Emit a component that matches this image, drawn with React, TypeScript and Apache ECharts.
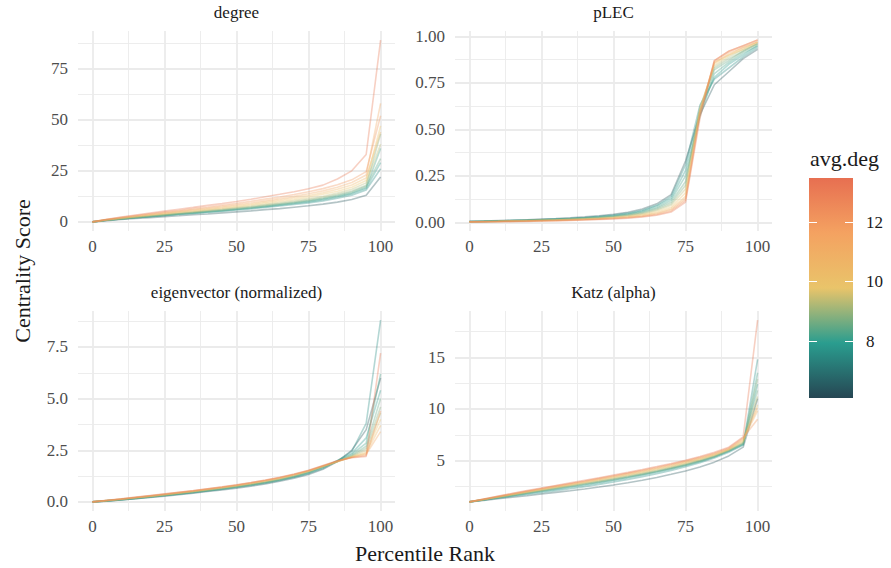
import React, { useEffect, useRef } from "react";
import * as echarts from "echarts";

const FONT = '"Liberation Serif", "DejaVu Serif", serif';

// percentile ranks (x)
const percentiles = [0, 5, 10, 15, 20, 25, 30, 35, 40, 45, 50, 55, 60, 65, 70, 75, 80, 85, 90, 95, 100];

// average degree of each network (colour)
const avgDeg = [6.4, 7.6, 8.0, 8.2, 8.5, 8.8, 9.3, 9.9, 10.5, 11.2, 12.0, 13.2];

const degreeValues = [
  [0, 0.6, 1.2, 1.7, 2.1, 2.6, 3.0, 3.5, 3.9, 4.4, 4.9, 5.4, 6.0, 6.5, 7.2, 7.9, 8.7, 9.7, 11.0, 13.1, 22],
  [0, 0.8, 1.4, 2.0, 2.5, 3.0, 3.6, 4.1, 4.6, 5.2, 5.8, 6.4, 7.1, 7.8, 8.5, 9.3, 10.3, 11.6, 13.1, 15.6, 26],
  [0, 0.8, 1.4, 2.1, 2.6, 3.2, 3.8, 4.3, 4.9, 5.4, 6.1, 6.7, 7.4, 8.2, 9.0, 9.8, 10.9, 12.2, 13.8, 16.4, 29],
  [0, 0.8, 1.5, 2.1, 2.7, 3.3, 3.9, 4.4, 5.0, 5.6, 6.2, 6.9, 7.6, 8.4, 9.2, 10.1, 11.2, 12.5, 14.1, 16.8, 36],
  [0, 0.9, 1.5, 2.2, 2.8, 3.4, 4.0, 4.6, 5.2, 5.8, 6.5, 7.1, 7.9, 8.7, 9.5, 10.5, 11.6, 12.9, 14.6, 17.4, 31],
  [0, 0.9, 1.6, 2.3, 2.9, 3.5, 4.1, 4.8, 5.4, 6.0, 6.7, 7.4, 8.2, 9.0, 9.9, 10.8, 12.0, 13.4, 15.1, 18.0, 43],
  [0, 0.9, 1.7, 2.4, 3.1, 3.7, 4.4, 5.0, 5.7, 6.3, 7.1, 7.8, 8.6, 9.5, 10.4, 11.4, 12.6, 14.1, 16.0, 19.1, 38],
  [0, 1.0, 1.8, 2.6, 3.3, 4.0, 4.7, 5.3, 6.0, 6.7, 7.5, 8.3, 9.2, 10.1, 11.1, 12.2, 13.5, 15.0, 17.0, 20.3, 47],
  [0, 1.1, 1.9, 2.7, 3.5, 4.2, 4.9, 5.7, 6.4, 7.1, 8.0, 8.8, 9.8, 10.7, 11.8, 12.9, 14.3, 16.0, 18.1, 21.5, 44],
  [0, 1.1, 2.0, 2.9, 3.7, 4.5, 5.3, 6.0, 6.8, 7.6, 8.5, 9.4, 10.4, 11.4, 12.5, 13.8, 15.2, 17.0, 19.3, 23.0, 58],
  [0, 1.2, 2.2, 3.1, 4.0, 4.8, 5.6, 6.5, 7.3, 8.2, 9.1, 10.1, 11.2, 12.2, 13.4, 14.8, 16.3, 18.2, 20.6, 24.6, 52],
  [0, 1.3, 2.4, 3.4, 4.4, 5.3, 6.2, 7.1, 8.1, 9.0, 10.0, 11.1, 12.3, 13.5, 14.8, 16.2, 18.0, 21.0, 25.0, 33.0, 89],
];

const plecValues = [
  [0.006, 0.008, 0.010, 0.012, 0.015, 0.018, 0.021, 0.025, 0.030, 0.036, 0.044, 0.055, 0.072, 0.10, 0.15, 0.33, 0.58, 0.74, 0.81, 0.88, 0.93],
  [0.005, 0.007, 0.009, 0.011, 0.013, 0.016, 0.019, 0.023, 0.027, 0.033, 0.040, 0.050, 0.066, 0.092, 0.14, 0.31, 0.63, 0.77, 0.83, 0.89, 0.94],
  [0.005, 0.006, 0.008, 0.010, 0.012, 0.015, 0.018, 0.021, 0.025, 0.030, 0.037, 0.047, 0.062, 0.088, 0.13, 0.28, 0.60, 0.78, 0.85, 0.90, 0.95],
  [0.005, 0.006, 0.008, 0.010, 0.012, 0.014, 0.017, 0.020, 0.024, 0.029, 0.035, 0.044, 0.058, 0.080, 0.12, 0.25, 0.57, 0.80, 0.86, 0.91, 0.95],
  [0.004, 0.006, 0.007, 0.009, 0.011, 0.013, 0.016, 0.019, 0.023, 0.027, 0.033, 0.041, 0.054, 0.075, 0.11, 0.22, 0.59, 0.82, 0.87, 0.92, 0.96],
  [0.004, 0.005, 0.007, 0.009, 0.011, 0.013, 0.015, 0.018, 0.022, 0.026, 0.031, 0.039, 0.050, 0.070, 0.10, 0.20, 0.62, 0.83, 0.88, 0.92, 0.96],
  [0.004, 0.005, 0.006, 0.008, 0.010, 0.012, 0.014, 0.017, 0.020, 0.024, 0.029, 0.036, 0.046, 0.064, 0.092, 0.18, 0.60, 0.84, 0.89, 0.93, 0.96],
  [0.004, 0.005, 0.006, 0.008, 0.009, 0.011, 0.013, 0.016, 0.019, 0.022, 0.027, 0.033, 0.042, 0.057, 0.082, 0.16, 0.61, 0.85, 0.90, 0.93, 0.97],
  [0.003, 0.004, 0.005, 0.007, 0.008, 0.010, 0.012, 0.014, 0.017, 0.020, 0.025, 0.030, 0.038, 0.051, 0.074, 0.14, 0.60, 0.86, 0.90, 0.94, 0.97],
  [0.003, 0.004, 0.005, 0.006, 0.008, 0.009, 0.011, 0.013, 0.016, 0.019, 0.023, 0.028, 0.035, 0.047, 0.068, 0.13, 0.59, 0.86, 0.91, 0.94, 0.97],
  [0.003, 0.004, 0.005, 0.006, 0.007, 0.009, 0.010, 0.012, 0.015, 0.018, 0.021, 0.026, 0.032, 0.043, 0.062, 0.12, 0.58, 0.87, 0.92, 0.95, 0.98],
  [0.003, 0.003, 0.004, 0.005, 0.006, 0.008, 0.009, 0.011, 0.013, 0.016, 0.019, 0.023, 0.029, 0.039, 0.056, 0.11, 0.56, 0.87, 0.92, 0.95, 0.98],
];

const eigenValues = [
  [0, 0.04, 0.09, 0.15, 0.21, 0.28, 0.35, 0.42, 0.50, 0.58, 0.66, 0.76, 0.87, 1.00, 1.15, 1.33, 1.58, 1.95, 2.50, 3.50, 6.0],
  [0, 0.05, 0.10, 0.16, 0.23, 0.30, 0.37, 0.45, 0.53, 0.61, 0.70, 0.80, 0.91, 1.04, 1.19, 1.37, 1.62, 1.98, 2.45, 3.80, 8.8],
  [0, 0.05, 0.11, 0.17, 0.24, 0.31, 0.38, 0.46, 0.54, 0.62, 0.72, 0.82, 0.93, 1.06, 1.21, 1.40, 1.66, 2.00, 2.35, 3.10, 5.4],
  [0, 0.05, 0.11, 0.18, 0.25, 0.32, 0.39, 0.47, 0.55, 0.64, 0.73, 0.83, 0.94, 1.07, 1.23, 1.42, 1.68, 1.98, 2.30, 2.85, 6.2],
  [0, 0.06, 0.12, 0.18, 0.25, 0.33, 0.40, 0.48, 0.56, 0.65, 0.74, 0.84, 0.95, 1.08, 1.24, 1.44, 1.70, 1.96, 2.25, 2.70, 5.0],
  [0, 0.06, 0.12, 0.19, 0.26, 0.33, 0.41, 0.49, 0.57, 0.66, 0.75, 0.85, 0.97, 1.10, 1.26, 1.46, 1.70, 1.95, 2.22, 2.60, 4.6],
  [0, 0.06, 0.13, 0.20, 0.27, 0.34, 0.42, 0.50, 0.58, 0.67, 0.77, 0.87, 0.99, 1.12, 1.28, 1.48, 1.71, 1.94, 2.20, 2.50, 4.3],
  [0, 0.07, 0.13, 0.20, 0.28, 0.35, 0.43, 0.51, 0.60, 0.69, 0.78, 0.89, 1.01, 1.14, 1.30, 1.49, 1.72, 1.95, 2.18, 2.40, 4.0],
  [0, 0.07, 0.14, 0.21, 0.28, 0.36, 0.44, 0.52, 0.61, 0.70, 0.80, 0.90, 1.02, 1.15, 1.31, 1.50, 1.73, 1.96, 2.17, 2.35, 3.7],
  [0, 0.07, 0.14, 0.21, 0.29, 0.37, 0.45, 0.53, 0.62, 0.71, 0.81, 0.92, 1.04, 1.17, 1.33, 1.51, 1.74, 1.97, 2.16, 2.30, 3.4],
  [0, 0.07, 0.14, 0.22, 0.30, 0.38, 0.46, 0.54, 0.63, 0.72, 0.82, 0.93, 1.05, 1.18, 1.34, 1.52, 1.75, 1.98, 2.15, 2.25, 4.4],
  [0, 0.08, 0.15, 0.23, 0.31, 0.39, 0.47, 0.55, 0.64, 0.73, 0.83, 0.94, 1.06, 1.19, 1.35, 1.53, 1.76, 1.99, 2.14, 2.20, 7.2],
];

const katzValues = [
  [1.0, 1.15, 1.30, 1.45, 1.60, 1.76, 1.92, 2.08, 2.25, 2.44, 2.64, 2.86, 3.10, 3.37, 3.67, 4.00, 4.38, 4.85, 5.45, 6.30, 11.0],
  [1.0, 1.18, 1.36, 1.54, 1.72, 1.90, 2.09, 2.28, 2.48, 2.70, 2.93, 3.18, 3.45, 3.74, 4.05, 4.40, 4.80, 5.25, 5.80, 6.50, 14.8],
  [1.0, 1.20, 1.40, 1.60, 1.80, 2.00, 2.20, 2.40, 2.61, 2.84, 3.08, 3.33, 3.60, 3.89, 4.20, 4.53, 4.90, 5.35, 5.90, 6.55, 12.4],
  [1.0, 1.21, 1.42, 1.63, 1.84, 2.05, 2.26, 2.47, 2.68, 2.90, 3.13, 3.38, 3.64, 3.92, 4.23, 4.56, 4.93, 5.38, 5.92, 6.60, 13.5],
  [1.0, 1.22, 1.44, 1.66, 1.87, 2.08, 2.30, 2.52, 2.74, 2.96, 3.19, 3.43, 3.69, 3.97, 4.27, 4.60, 4.97, 5.40, 5.95, 6.65, 11.8],
  [1.0, 1.22, 1.45, 1.68, 1.90, 2.12, 2.34, 2.56, 2.78, 3.00, 3.23, 3.48, 3.74, 4.02, 4.32, 4.65, 5.02, 5.45, 6.00, 6.70, 12.9],
  [1.0, 1.23, 1.46, 1.69, 1.92, 2.15, 2.38, 2.60, 2.83, 3.06, 3.30, 3.55, 3.81, 4.09, 4.39, 4.71, 5.08, 5.50, 6.03, 6.80, 11.2],
  [1.0, 1.24, 1.48, 1.72, 1.96, 2.19, 2.42, 2.65, 2.88, 3.12, 3.37, 3.62, 3.88, 4.16, 4.46, 4.78, 5.14, 5.55, 6.07, 6.90, 10.4],
  [1.0, 1.25, 1.50, 1.74, 1.98, 2.22, 2.46, 2.70, 2.94, 3.18, 3.43, 3.69, 3.95, 4.23, 4.53, 4.85, 5.20, 5.60, 6.10, 7.00, 9.8],
  [1.0, 1.26, 1.52, 1.77, 2.02, 2.26, 2.50, 2.74, 2.98, 3.23, 3.48, 3.74, 4.01, 4.29, 4.59, 4.91, 5.26, 5.65, 6.15, 7.10, 10.1],
  [1.0, 1.27, 1.54, 1.80, 2.05, 2.30, 2.55, 2.79, 3.03, 3.28, 3.53, 3.79, 4.06, 4.35, 4.65, 4.97, 5.32, 5.72, 6.22, 7.20, 9.0],
  [1.0, 1.28, 1.56, 1.83, 2.09, 2.34, 2.59, 2.84, 3.09, 3.34, 3.60, 3.86, 4.13, 4.42, 4.72, 5.04, 5.40, 5.80, 6.30, 7.30, 18.6],
];

const facetTitles = ["degree", "pLEC", "eigenvector (normalized)", "Katz (alpha)"];
const xMajorTicks = [0, 25, 50, 75, 100];
const xMinorTicks = [12.5, 37.5, 62.5, 87.5];
const degreeMajor = [0, 25, 50, 75];
const degreeMinor = [12.5, 37.5, 62.5, 87.5];
const plecMajor = [0, 0.25, 0.5, 0.75, 1];
const plecMinor = [0.125, 0.375, 0.625, 0.875];
const eigenMajor = [0, 2.5, 5, 7.5];
const eigenMinor = [1.25, 3.75, 6.25, 8.75];
const katzMajor = [5, 10, 15];
const katzMinor = [2.5, 7.5, 12.5, 17.5];

const legendTicks = [8, 10, 12];
const LEG_MIN = 6.09;
const LEG_MAX = 13.48;
const palette = ["#264653", "#2A9D8F", "#E9C46A", "#F4A261", "#E76F51"];

function hexToRgb(h: string) {
  const n = parseInt(h.slice(1), 16);
  return [(n >> 16) & 255, (n >> 8) & 255, n & 255];
}
function colorFor(v: number) {
  let t = (v - LEG_MIN) / (LEG_MAX - LEG_MIN);
  t = Math.max(0, Math.min(1, t));
  const seg = t * (palette.length - 1);
  const i = Math.min(palette.length - 2, Math.floor(seg));
  const f = seg - i;
  const a = hexToRgb(palette[i]);
  const b = hexToRgb(palette[i + 1]);
  const c = a.map((x, k) => Math.round(x + (b[k] - x) * f));
  return `rgb(${c[0]},${c[1]},${c[2]})`;
}

const panels = [
  { values: degreeValues, major: degreeMajor, minor: degreeMinor, digits: 0 },
  { values: plecValues, major: plecMajor, minor: plecMinor, digits: 2 },
  { values: eigenValues, major: eigenMajor, minor: eigenMinor, digits: 1 },
  { values: katzValues, major: katzMajor, minor: katzMinor, digits: 0 },
];

const GRID_LEFT = [78, 455];
const GRID_TOP = [31, 311];
const GRID_W = 317;
const GRID_H = 200;

export default function App() {
  const ref = useRef<HTMLDivElement>(null);
  useEffect(() => {
    if (!ref.current) return;
    const chart = echarts.init(ref.current, undefined, { renderer: "svg" });
    const grids: any[] = [];
    const xAxes: any[] = [];
    const yAxes: any[] = [];
    const series: any[] = [];
    const graphics: any[] = [];
    const labelStyle = { color: "#4D4D4D", fontSize: 17, fontFamily: FONT };
    const gridColor = "#EBEBEB";

    panels.forEach((p, i) => {
      const r = Math.floor(i / 2);
      const c = i % 2;
      grids.push({ left: GRID_LEFT[c], top: GRID_TOP[r], width: GRID_W, height: GRID_H });
      let lo = Infinity;
      let hi = -Infinity;
      p.values.forEach((row) => row.forEach((v) => { lo = Math.min(lo, v); hi = Math.max(hi, v); }));
      const pad = (hi - lo) * 0.05;
      const ymin = lo - pad;
      const ymax = hi + pad;
      xAxes.push({
        type: "value", gridIndex: i, min: -5, max: 105, position: "bottom",
        axisLine: { show: false },
        axisTick: { show: false, customValues: xMajorTicks },
        axisLabel: { ...labelStyle, customValues: xMajorTicks, margin: 7 },
        splitLine: { show: true, lineStyle: { color: gridColor, width: 1.8 } },
      });
      xAxes.push({
        type: "value", gridIndex: i, min: -5, max: 105, position: "bottom",
        axisLine: { show: false },
        axisTick: { show: false, customValues: xMinorTicks },
        axisLabel: { show: false },
        splitLine: { show: true, lineStyle: { color: gridColor, width: 0.9 } },
      });
      yAxes.push({
        type: "value", gridIndex: i, min: ymin, max: ymax, position: "left",
        axisLine: { show: false },
        axisTick: { show: false, customValues: p.major },
        axisLabel: {
          ...labelStyle, customValues: p.major, margin: 10,
          formatter: (v: number) => v.toFixed(p.digits),
        },
        splitLine: { show: true, lineStyle: { color: gridColor, width: 1.8 } },
      });
      yAxes.push({
        type: "value", gridIndex: i, min: ymin, max: ymax, position: "left",
        axisLine: { show: false },
        axisTick: { show: false, customValues: p.minor },
        axisLabel: { show: false },
        splitLine: { show: true, lineStyle: { color: gridColor, width: 0.9 } },
      });
      p.values.forEach((row, k) => {
        series.push({
          type: "line",
          xAxisIndex: i * 2,
          yAxisIndex: i * 2,
          data: percentiles.map((x, j) => [x, row[j]]),
          showSymbol: false,
          symbol: "none",
          silent: true,
          clip: false,
          lineStyle: { color: colorFor(avgDeg[k]), width: 1.6, opacity: 0.35 },
        });
      });
      graphics.push({
        type: "text",
        x: GRID_LEFT[c] + GRID_W / 2,
        y: r === 0 ? 12 : 292,
        style: {
          text: facetTitles[i], fill: "#1A1A1A", fontSize: 17, fontFamily: FONT,
          textAlign: "center", textVerticalAlign: "middle",
        },
      });
    });

    // colour bar legend
    grids.push({ left: 809, top: 178, width: 44, height: 220 });
    xAxes.push({
      type: "category", gridIndex: 4, data: [""],
      axisLine: { show: false }, axisTick: { show: false }, axisLabel: { show: false },
      splitLine: { show: false },
    });
    yAxes.push({
      type: "value", gridIndex: 4, min: LEG_MIN, max: LEG_MAX, position: "right",
      axisLine: { show: false },
      axisTick: { show: true, inside: true, length: 8, customValues: legendTicks, lineStyle: { color: "#FFFFFF", width: 1 } },
      axisLabel: { customValues: legendTicks, color: "#1A1A1A", fontSize: 17, fontFamily: FONT, margin: 13 },
      splitLine: { show: false },
      z: 5,
    });
    yAxes.push({
      type: "value", gridIndex: 4, min: LEG_MIN, max: LEG_MAX, position: "left",
      axisLine: { show: false },
      axisTick: { show: true, inside: true, length: 8, customValues: legendTicks, lineStyle: { color: "#FFFFFF", width: 1 } },
      axisLabel: { show: false },
      splitLine: { show: false },
      z: 5,
    });
    series.push({
      type: "bar", xAxisIndex: 8, yAxisIndex: 8, stack: "leg", barWidth: "100%",
      data: [LEG_MIN], itemStyle: { color: "rgba(0,0,0,0)" }, silent: true,
    });
    series.push({
      type: "bar", xAxisIndex: 8, yAxisIndex: 8, stack: "leg", barWidth: "100%",
      data: [LEG_MAX - LEG_MIN], silent: true,
      itemStyle: {
        color: new echarts.graphic.LinearGradient(0, 1, 0, 0,
          palette.map((col, k) => ({ offset: k / (palette.length - 1), color: col }))),
      },
    });

    graphics.push({
      type: "text", x: 810, y: 158,
      style: { text: "avg.deg", fill: "#1A1A1A", fontSize: 22, fontFamily: FONT, textVerticalAlign: "middle" },
    });
    graphics.push({
      type: "text", x: 425, y: 553,
      style: { text: "Percentile Rank", fill: "#1A1A1A", fontSize: 22, fontFamily: FONT, textAlign: "center", textVerticalAlign: "middle" },
    });
    graphics.push({
      type: "text", x: 22, y: 271, rotation: Math.PI / 2,
      style: { text: "Centrality Score", fill: "#1A1A1A", fontSize: 22, fontFamily: FONT, textAlign: "center", textVerticalAlign: "middle" },
    });

    chart.setOption({
      animation: false,
      backgroundColor: "#FFFFFF",
      grid: grids,
      xAxis: xAxes,
      yAxis: yAxes,
      series,
      graphic: graphics,
    });
    return () => chart.dispose();
  }, []);
  return (
    <div
      ref={ref}
      style={{ position: "fixed", left: 0, top: 0, width: 891, height: 568, background: "#fff" }}
    />
  );
}
